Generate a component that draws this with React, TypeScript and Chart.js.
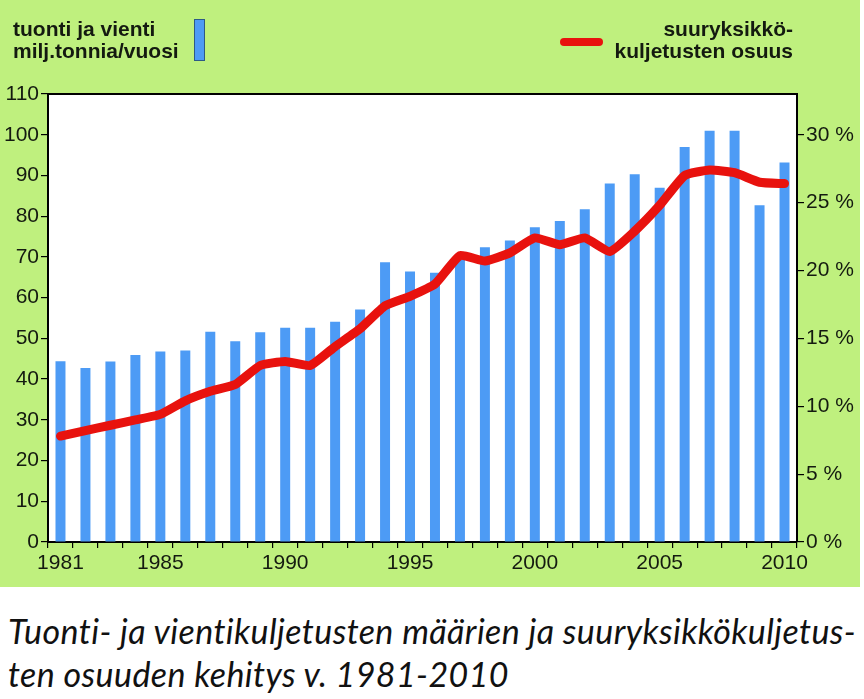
import React, { useEffect, useRef } from "react";
import { Chart, registerables } from "chart.js";

Chart.register(...registerables);

const years: string[] = [
  "1981", "1982", "1983", "1984", "1985", "1986", "1987", "1988", "1989", "1990",
  "1991", "1992", "1993", "1994", "1995", "1996", "1997", "1998", "1999", "2000",
  "2001", "2002", "2003", "2004", "2005", "2006", "2007", "2008", "2009", "2010",
];

// tuonti ja vienti, milj. tonnia / vuosi
const tonnage: number[] = [
  44.4, 42.7, 44.3, 45.9, 46.8, 47.0, 51.6, 49.3, 51.5, 52.6,
  52.6, 54.1, 57.1, 68.7, 66.4, 66.1, 70.3, 72.4, 74.0, 77.3,
  78.8, 81.7, 88.0, 90.3, 87.0, 97.0, 101.0, 101.0, 82.7, 93.2,
];

// suuryksikkökuljetusten osuus, %
const share: number[] = [
  7.8, 8.2, 8.6, 9.0, 9.4, 10.4, 11.1, 11.6, 13.0, 13.3,
  13.0, 14.4, 15.7, 17.4, 18.1, 19.0, 21.1, 20.7, 21.3, 22.4,
  21.9, 22.4, 21.4, 22.9, 24.8, 27.0, 27.4, 27.2, 26.5, 26.4,
];

const leftTicks = { min: 0, max: 110, step: 10 };
const rightTicks = { min: 0, max: 33, step: 5 };
const labelledYears = ["1981", "1985", "1990", "1995", "2000", "2005", "2010"];

const GREEN = "#bff07e";
const BLUE = "#4d9bf5";
const RED = "#e8120e";
const INK = "#141a10";
const TICK_FONT = { family: "Arial, 'Liberation Sans', sans-serif", size: 21 };

const plotFrame = {
  id: "plotFrame",
  beforeDraw(chart: any) {
    const { ctx, chartArea } = chart;
    ctx.save();
    ctx.fillStyle = "#ffffff";
    ctx.fillRect(chartArea.left, chartArea.top, chartArea.right - chartArea.left, chartArea.bottom - chartArea.top);
    ctx.restore();
  },
  afterDraw(chart: any) {
    const { ctx, chartArea } = chart;
    ctx.save();
    ctx.strokeStyle = "#000000";
    ctx.lineWidth = 2;
    ctx.beginPath();
    ctx.moveTo(chartArea.left, chartArea.top);
    ctx.lineTo(chartArea.right, chartArea.top);
    ctx.lineTo(chartArea.right, chartArea.bottom);
    ctx.stroke();
    ctx.restore();
  },
};

export default function App() {
  const canvasRef = useRef<HTMLCanvasElement | null>(null);

  useEffect(() => {
    document.body.style.margin = "0";
    document.body.style.background = "#ffffff";
    const canvas = canvasRef.current;
    if (!canvas) return;
    const chart = new Chart(canvas, {
      type: "bar",
      data: {
        labels: years,
        datasets: [
          {
            type: "line",
            label: "suuryksikkökuljetusten osuus",
            data: share,
            yAxisID: "y1",
            borderColor: RED,
            borderWidth: 9,
            tension: 0.15,
            pointRadius: 0,
            borderJoinStyle: "round",
            borderCapStyle: "round",
            order: 0,
          } as any,
          {
            type: "bar",
            label: "tuonti ja vienti",
            data: tonnage,
            yAxisID: "y",
            backgroundColor: BLUE,
            borderWidth: 0,
            barPercentage: 0.4,
            categoryPercentage: 1,
            order: 1,
          },
        ],
      },
      options: {
        responsive: false,
        animation: false,
        layout: { padding: { top: 94, left: 0, right: 0, bottom: 0 } },
        plugins: { legend: { display: false }, tooltip: { enabled: false } },
        scales: {
          x: {
            offset: true,
            grid: {
              offset: true,
              drawOnChartArea: false,
              drawTicks: true,
              tickLength: 6,
              color: "#000000",
              lineWidth: 1.2,
            },
            border: { display: true, color: "#000000", width: 2 },
            ticks: {
              autoSkip: false,
              maxRotation: 0,
              padding: 3,
              color: INK,
              font: TICK_FONT,
              callback: (_v: any, i: number) => (labelledYears.includes(years[i]) ? years[i] : ""),
            },
            afterFit: (s: any) => {
              s.height = 45;
            },
          },
          y: {
            position: "left",
            min: leftTicks.min,
            max: leftTicks.max,
            grid: { drawOnChartArea: false, drawTicks: true, tickLength: 7, color: "#000000", lineWidth: 1.2 },
            border: { display: true, color: "#000000", width: 2 },
            ticks: { stepSize: leftTicks.step, padding: 2, color: INK, font: TICK_FONT },
            afterFit: (s: any) => {
              s.width = 48;
            },
          },
          y1: {
            position: "right",
            min: rightTicks.min,
            max: rightTicks.max,
            grid: { drawOnChartArea: false, drawTicks: true, tickLength: 7, color: "#000000", lineWidth: 1.2 },
            border: { display: true, color: "#000000", width: 2 },
            ticks: {
              stepSize: rightTicks.step,
              padding: 2,
              color: INK,
              font: TICK_FONT,
              callback: (v: any) => `${v} %`,
            },
            afterBuildTicks: (s: any) => {
              s.ticks = s.ticks.filter((t: any) => t.value % rightTicks.step === 0);
            },
            afterFit: (s: any) => {
              s.width = 63;
            },
          },
        },
      },
      plugins: [plotFrame],
    });
    return () => chart.destroy();
  }, []);

  const legendFont: React.CSSProperties = {
    fontFamily: "Arial, 'Liberation Sans', sans-serif",
    fontWeight: "bold",
    fontSize: 21,
    lineHeight: "22px",
    color: INK,
    position: "absolute",
    whiteSpace: "nowrap",
  };

  return (
    <div style={{ width: 864, background: "#ffffff" }}>
      <div style={{ position: "relative", width: 860, height: 587, background: GREEN }}>
        <canvas ref={canvasRef} width={860} height={587} style={{ display: "block" }} />
        <div style={{ ...legendFont, left: 13, top: 18 }}>
          tuonti ja vienti
          <br />
          milj.tonnia/vuosi
        </div>
        <div
          style={{
            position: "absolute",
            left: 194,
            top: 19,
            width: 9,
            height: 40,
            background: BLUE,
            border: "1px solid #2d5a86",
          }}
        />
        <div
          style={{
            position: "absolute",
            left: 560,
            top: 38,
            width: 43,
            height: 8,
            borderRadius: 4,
            background: RED,
          }}
        />
        <div style={{ ...legendFont, right: 67, top: 18, textAlign: "right" }}>
          suuryksikkö-
          <br />
          kuljetusten osuus
        </div>
      </div>
      <div
        style={{
          marginTop: 22,
          paddingLeft: 8,
          fontFamily: "Lato, 'Open Sans', sans-serif",
          fontStyle: "italic",
          fontSize: 34,
          letterSpacing: "0.4px",
          lineHeight: "43px",
          color: "#111111",
          whiteSpace: "nowrap",
        }}
      >
        Tuonti- ja vientikuljetusten määrien ja suuryksikkökuljetus-
        <br />
        ten osuuden kehitys v. 1981-2010
      </div>
    </div>
  );
}
